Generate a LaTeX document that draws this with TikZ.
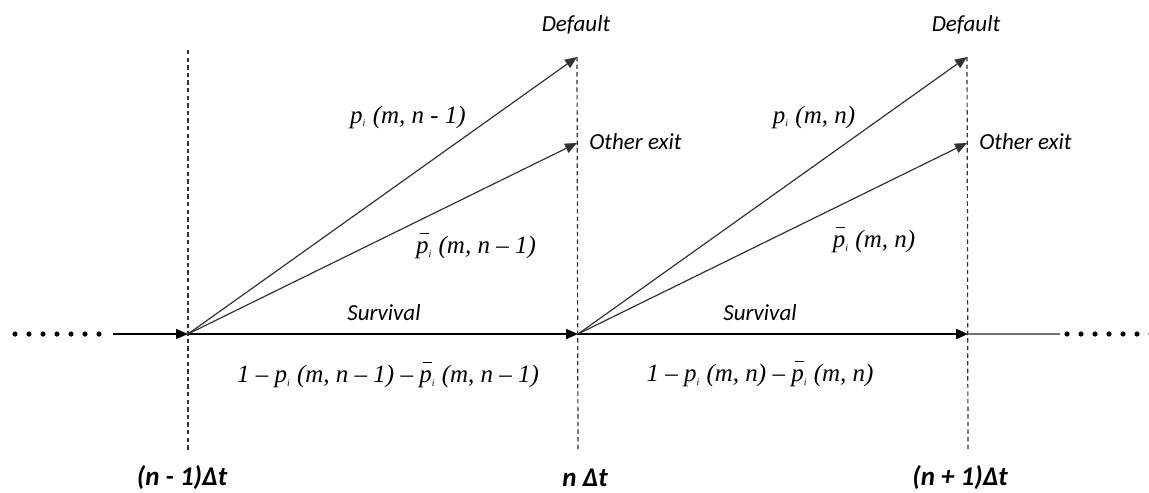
\documentclass[tikz,border=0pt]{standalone}
\usepackage{fontspec}
\setmainfont{Carlito}
\newfontfamily\formfont{Liberation Serif}
\usetikzlibrary{arrows.meta,positioning}

% bar over p, as in the labels
\newcommand\pbar{\makebox[0pt][l]{\hspace{0.14em}\raisebox{0.78em}{\rule{0.36em}{0.06em}}}p}
\newcommand\prob[1]{{\formfont\itshape #1\textsubscript{\tiny i}}}

\begin{document}
\begin{tikzpicture}[
  x=0.5pt,y=-0.5pt,
  font=\itshape\fontsize{11.5}{13}\selectfont,
  lbl/.style={inner sep=1pt},
  form/.style={inner sep=1pt,font=\formfont\itshape\fontsize{12.5}{14}\selectfont},
  tick/.style={inner sep=1pt,font=\bfseries\itshape\fontsize{13.5}{15}\selectfont},
  grid/.style={draw=black!80,line width=0.6pt,dash pattern=on 2.2pt off 1.6pt},
  arr/.style={draw=black!80,line width=0.6pt,-{Triangle[length=6pt,width=5pt]}},
  surv/.style={draw=black,line width=1pt,-{Triangle[length=6pt,width=5pt]}},
  dots/.style={draw=black,line width=2.6pt,line cap=round,dash pattern=on 0pt off 7pt}
]
\useasboundingbox (0,0) rectangle (1149,492);

% time points on the axis
\coordinate (t0) at (188,334);
\coordinate (t1) at (578,334);
\coordinate (t2) at (968,334);
\coordinate (lead) at (113,334);
\coordinate (tail) at (1060,334);
\coordinate (ldots0) at (15,334);
\coordinate (ldots1) at (100,334);
\coordinate (rdots0) at (1067,334);
\coordinate (rdots1) at (1155,334);

% end points of the exits
\coordinate (def1) at (577,57);
\coordinate (oth1) at (577,143);
\coordinate (def2) at (967,57);
\coordinate (oth2) at (967,143);

% dashed time lines
\coordinate (g0top) at (188,50);
\coordinate (g0bot) at (188,452);
\coordinate (g1bot) at (578,452);
\coordinate (g2bot) at (968,452);
\draw[grid] (g0top) -- (g0bot);
\draw[grid] (def1) -- (g1bot);
\draw[grid] (def2) -- (g2bot);

% axis
\draw[dots] (ldots0) -- (ldots1);
\draw[dots] (rdots0) -- (rdots1);
\draw[arr,draw=black,line width=0.8pt] (lead) -- (t0);
\draw[surv] (t0) -- (t1);
\draw[surv] (t1) -- (t2);
\draw[draw=black!55,line width=0.8pt] (t2) -- (tail);

% exits
\draw[arr] (t0) -- (def1);
\draw[arr] (t0) -- (oth1);
\draw[arr] (t1) -- (def2);
\draw[arr] (t1) -- (oth2);

% labels
\node[lbl] (dlbl1) at (576,25) {Default};
\node[lbl] (dlbl2) at (966,25) {Default};
\node[lbl,anchor=west] (olbl1) at (587,142) {Other exit};
\node[lbl,anchor=west] (olbl2) at (977,142) {Other exit};
\node[lbl] (slbl1) at (384,313) {Survival};
\node[lbl] (slbl2) at (760,313) {Survival};

\node[form] (p1) at (408,117) {\prob{p} (m, n - 1)};
\node[form] (q1) at (476,246) {\prob{\pbar} (m, n – 1)};
\node[form] (p2) at (814,117) {\prob{p} (m, n)};
\node[form] (q2) at (874,240) {\prob{\pbar} (m, n)};
\node[form] (r1) at (388,375) {1 – \prob{p} (m, n – 1) – \prob{\pbar} (m, n – 1)};
\node[form] (r2) at (760,374) {1 – \prob{p} (m, n) – \prob{\pbar} (m, n)};

\node[tick] (n0) at (182,478) {(n - 1)Δt};
\node[tick] (n1) at (585,478) {n Δt};
\node[tick] (n2) at (960,478) {(n + 1)Δt};
\end{tikzpicture}
\end{document}
